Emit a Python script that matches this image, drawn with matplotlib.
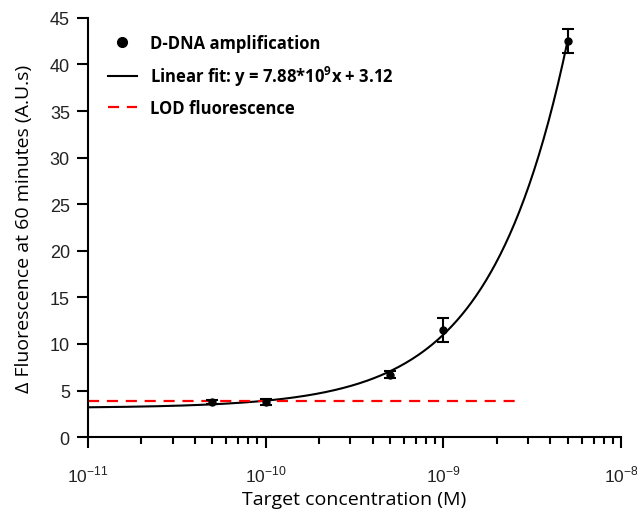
import numpy as np
import matplotlib
matplotlib.use("Agg")
import matplotlib.pyplot as plt
from matplotlib.lines import Line2D
from matplotlib.ticker import LogLocator, NullFormatter, FixedLocator

# Data
conc = [5e-11, 1e-10, 5e-10, 1e-9, 5e-9]
fluor = [3.8, 3.75, 6.7, 11.5, 42.5]
err = [0.2, 0.3, 0.35, 1.25, 1.3]
slope = 7.88e9
intercept = 3.12
lod = 3.85
fit_range = [1e-11, 5e-9]
lod_range = [1e-11, 2.6e-9]
xticks = [1e-11, 1e-10, 1e-9, 1e-8]
xticklabels = ["10$^{\\mathregular{-11}}$", "10$^{\\mathregular{-10}}$",
               "10$^{\\mathregular{-9}}$", "10$^{\\mathregular{-8}}$"]

fig = plt.figure(figsize=(6.37, 5.10), dpi=100)
ax = fig.add_axes([0.138, 0.141, 0.837, 0.822])

xfit = np.logspace(np.log10(fit_range[0]), np.log10(fit_range[1]), 300)
fit_line, = ax.plot(xfit, slope * xfit + intercept, color="black", lw=1.5)
lod_line, = ax.plot(lod_range, [lod, lod], color="red", lw=1.6, ls=(0, (5, 3.5)))
ax.errorbar(conc, fluor, yerr=err, fmt="o", color="black", ms=5,
            capsize=4, elinewidth=1.5, capthick=1.5)

ax.set_xscale("log")
ax.set_xlim(1e-11, 1e-8)
ax.set_ylim(0, 45)
ax.set_yticks(range(0, 46, 5))
ax.xaxis.set_major_locator(FixedLocator(xticks))
ax.set_xticklabels(xticklabels)
ax.xaxis.set_minor_locator(LogLocator(base=10, subs=np.arange(2, 10), numticks=10))
ax.xaxis.set_minor_formatter(NullFormatter())

for s in ["top", "right"]:
    ax.spines[s].set_visible(False)
for s in ["left", "bottom"]:
    ax.spines[s].set_linewidth(1.5)
ax.tick_params(which="major", length=8, width=1.5, labelsize=13, pad=5)
ax.tick_params(which="minor", length=5, width=1.5)
ax.tick_params(axis="x", which="major", pad=11, labelsize=12.5)
for lab in ax.get_xticklabels() + ax.get_yticklabels():
    lab.set_fontfamily("Liberation Sans")
    lab.set_color("#222222")

ax.set_xlabel("Target concentration (M)", fontsize=14, family="Open Sans", labelpad=4)
ax.set_ylabel("Δ Fluorescence at 60 minutes (A.U.s)", fontsize=14, family="Open Sans", labelpad=12)

dot = Line2D([], [], marker="o", ls="none", color="black", ms=7)
handles = [dot, fit_line, lod_line]
labels = ["D-DNA amplification",
          "Linear fit: y = 7.88*10$^{\\mathregular{9}}$x + 3.12",
          "LOD fluorescence"]
ax.legend(handles, labels, loc="upper left", frameon=False,
          prop={"family": "Open Sans", "weight": "bold", "size": 12},
          bbox_to_anchor=(0.01, 0.997), handlelength=1.7, handletextpad=0.8,
          labelspacing=0.68)

fig.savefig("out.png", dpi=100)
